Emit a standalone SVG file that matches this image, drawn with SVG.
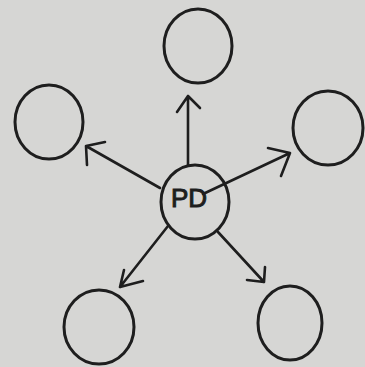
<svg xmlns="http://www.w3.org/2000/svg" width="365" height="367" viewBox="0 0 365 367">
<style>
.node{fill:none;stroke:#1e1e1e;stroke-width:3}
.edge{fill:none;stroke:#1e1e1e;stroke-width:2.6;stroke-linecap:round;stroke-linejoin:round}
.lbl{font-family:"Liberation Sans",Arial,sans-serif;font-size:26px;fill:#1e1e1e;stroke:#1e1e1e;stroke-width:1;text-anchor:middle}
</style>
<rect width="365" height="367" fill="#d6d6d4"/>
<g id="edges">
<path class="edge" d="M188,165 L188,96 M177,112 L188,96 L200,108"/>
<path class="edge" d="M160,188 L86,146 M105,142 L86,146 L87,165"/>
<path class="edge" d="M203,194 L290,153 M268,148 L290,153 L281,176"/>
<path class="edge" d="M168,226 L120,287 M124,270 L120,287 L143,281"/>
<path class="edge" d="M218,232 L264,282 M247,280 L264,282 L265,267"/>
</g>
<g id="n-top"><ellipse class="node" cx="198" cy="46" rx="34" ry="37"/></g>
<g id="n-left"><ellipse class="node" cx="49" cy="122" rx="34" ry="37"/></g>
<g id="n-right"><ellipse class="node" cx="328" cy="128" rx="35" ry="37"/></g>
<g id="n-bl"><ellipse class="node" cx="99" cy="327" rx="35" ry="37"/></g>
<g id="n-br"><ellipse class="node" cx="290" cy="323" rx="32" ry="37"/></g>
<g id="n-pd"><ellipse class="node" cx="195" cy="202" rx="34" ry="37"/><text class="lbl" x="189" y="207">PD</text></g>
</svg>
